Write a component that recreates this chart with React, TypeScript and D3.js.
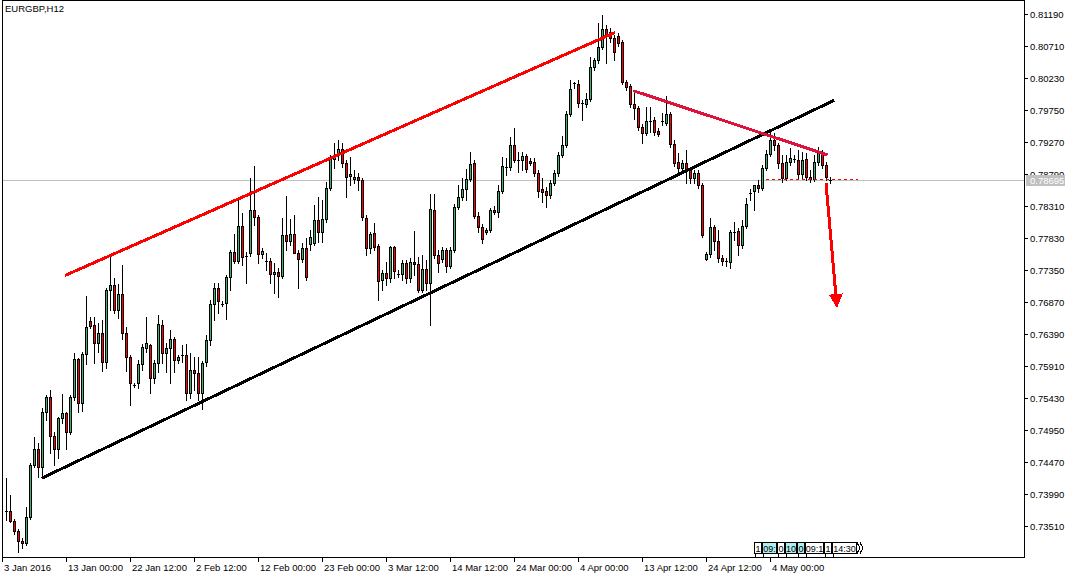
import React from 'react';
import * as d3 from 'd3';

const symbolTitle = 'EURGBP,H12';

const opens = [0.73735,0.73735,0.73585,0.73435,0.73285,0.73255,0.73645,0.74425,0.74665,0.74395,0.75220,0.75445,0.74860,0.74665,0.75130,0.75205,0.74920,0.75445,0.76015,0.75355,0.76090,0.76585,0.76525,0.76255,0.76405,0.75970,0.77050,0.77125,0.76750,0.76990,0.76405,0.76045,0.75625,0.75655,0.75940,0.76180,0.76225,0.75730,0.75955,0.76525,0.76105,0.76180,0.76315,0.76000,0.76075,0.76075,0.75505,0.75850,0.75805,0.75505,0.75970,0.76300,0.76840,0.77080,0.76840,0.76855,0.77245,0.77620,0.77485,0.78010,0.77560,0.77605,0.78250,0.78145,0.77590,0.77485,0.77485,0.77290,0.77320,0.77260,0.77875,0.77785,0.77890,0.77605,0.77515,0.77680,0.77740,0.77755,0.78100,0.77920,0.78115,0.78580,0.79015,0.79075,0.79165,0.78955,0.78760,0.78715,0.78745,0.78700,0.78130,0.77680,0.77905,0.77710,0.77200,0.77305,0.77230,0.77695,0.77290,0.77290,0.77455,0.77230,0.77470,0.77440,0.77050,0.77365,0.77155,0.78250,0.77575,0.77515,0.77650,0.77410,0.77650,0.78295,0.78445,0.78565,0.78715,0.78955,0.78160,0.77995,0.77920,0.77950,0.78250,0.78220,0.78535,0.78895,0.78895,0.79225,0.79000,0.79000,0.79060,0.78985,0.78970,0.78805,0.78565,0.78535,0.78475,0.78655,0.78805,0.79075,0.79225,0.79690,0.80155,0.80140,0.79855,0.79840,0.79915,0.80395,0.80500,0.80695,0.80965,0.80920,0.80830,0.80860,0.80770,0.80170,0.80110,0.79840,0.79780,0.79495,0.79405,0.79585,0.79600,0.79435,0.79585,0.79555,0.79690,0.79240,0.78970,0.78880,0.78955,0.78850,0.78730,0.78805,0.78625,0.77515,0.77590,0.77995,0.77785,0.77530,0.77485,0.77470,0.77920,0.77935,0.77725,0.78010,0.78505,0.78535,0.78625,0.78580,0.78880,0.79090,0.79300,0.79225,0.78955,0.78730,0.78970,0.79015,0.79000,0.78790,0.79015,0.78745,0.78715,0.78970,0.79105,0.78925,0.78700];

const highs = [0.74230,0.73975,0.73615,0.73465,0.73330,0.73795,0.74455,0.74845,0.74755,0.75280,0.75475,0.75550,0.74920,0.75145,0.75490,0.75220,0.75475,0.76105,0.76030,0.76120,0.76960,0.76645,0.76645,0.76555,0.76600,0.77080,0.77545,0.77230,0.77140,0.77425,0.76495,0.76075,0.75655,0.76000,0.76240,0.76645,0.76240,0.76000,0.76675,0.76600,0.76255,0.76450,0.76345,0.76075,0.76225,0.76240,0.76105,0.76045,0.76045,0.75985,0.76375,0.76900,0.77155,0.77155,0.76885,0.77275,0.77650,0.77890,0.78445,0.78205,0.77620,0.78730,0.78910,0.78175,0.77680,0.77605,0.77530,0.77455,0.77380,0.78130,0.78460,0.78115,0.78175,0.77650,0.77755,0.77830,0.77950,0.78325,0.78445,0.78400,0.78670,0.79075,0.79255,0.79300,0.79255,0.79000,0.79045,0.78850,0.78805,0.78730,0.78175,0.77920,0.78055,0.77740,0.77350,0.77470,0.77710,0.77710,0.77350,0.77500,0.77500,0.77530,0.77935,0.77545,0.77575,0.77500,0.78490,0.78490,0.77650,0.77695,0.77680,0.77695,0.78340,0.78625,0.78730,0.78865,0.79120,0.79000,0.78220,0.78040,0.77980,0.78280,0.78310,0.78625,0.79045,0.79030,0.79345,0.79480,0.79120,0.79120,0.79090,0.79030,0.79030,0.78850,0.78730,0.78595,0.78700,0.78850,0.79120,0.79360,0.79735,0.80200,0.80170,0.80200,0.79900,0.80005,0.80545,0.80530,0.81055,0.81175,0.81025,0.80980,0.80875,0.80905,0.80800,0.80200,0.80140,0.80035,0.79810,0.79540,0.79795,0.79795,0.79645,0.79480,0.79705,0.79960,0.79720,0.79300,0.79105,0.79000,0.79150,0.78895,0.78850,0.78850,0.78655,0.77620,0.78130,0.78025,0.77950,0.77575,0.77530,0.77950,0.78070,0.77980,0.78100,0.78430,0.78565,0.78625,0.78700,0.78925,0.79150,0.79450,0.79405,0.79255,0.79075,0.79075,0.79180,0.79075,0.79150,0.79120,0.79105,0.78850,0.79075,0.79195,0.79150,0.78970,0.78745];

const lows = [0.73600,0.73570,0.73390,0.73120,0.73180,0.73225,0.73615,0.74395,0.74245,0.74245,0.75100,0.74605,0.74425,0.74530,0.75055,0.74665,0.74890,0.75400,0.75220,0.75235,0.75940,0.76480,0.75955,0.76120,0.75835,0.75880,0.76750,0.76705,0.76630,0.76315,0.75835,0.75325,0.75595,0.75580,0.75850,0.76120,0.75505,0.75655,0.75820,0.75955,0.75820,0.75655,0.75820,0.75955,0.75970,0.75400,0.75430,0.75550,0.75400,0.75265,0.75910,0.76225,0.76600,0.76705,0.76810,0.76615,0.77050,0.77455,0.77455,0.77425,0.77155,0.77560,0.78025,0.77455,0.77530,0.77350,0.77155,0.77005,0.76945,0.77230,0.77650,0.77725,0.77605,0.77080,0.77470,0.77200,0.77650,0.77725,0.77770,0.77770,0.78070,0.78550,0.78880,0.79000,0.78895,0.78445,0.78625,0.78655,0.78550,0.78100,0.77575,0.77605,0.77650,0.76900,0.77050,0.77125,0.77170,0.77230,0.77245,0.77200,0.77155,0.77170,0.77275,0.77020,0.77020,0.77050,0.76525,0.77530,0.77320,0.77470,0.77320,0.77380,0.77620,0.78265,0.78400,0.78400,0.78685,0.78130,0.77920,0.77755,0.77890,0.77920,0.78190,0.78145,0.78505,0.78775,0.78850,0.78970,0.78820,0.78850,0.78820,0.78925,0.78760,0.78445,0.78370,0.78295,0.78430,0.78625,0.78760,0.79045,0.79195,0.79660,0.80080,0.79795,0.79600,0.79795,0.79885,0.80350,0.80455,0.80665,0.80455,0.80770,0.80500,0.80710,0.80140,0.80050,0.79795,0.79615,0.79450,0.79255,0.79375,0.79420,0.79375,0.79360,0.79525,0.79525,0.79195,0.78910,0.78820,0.78820,0.78655,0.78655,0.78655,0.78580,0.77845,0.77500,0.77545,0.77650,0.77470,0.77425,0.77410,0.77380,0.77800,0.77575,0.77680,0.77980,0.78400,0.78250,0.78520,0.78550,0.78850,0.79060,0.79150,0.78880,0.78670,0.78700,0.78925,0.78970,0.78730,0.78730,0.78700,0.78670,0.78685,0.78925,0.78880,0.78700,0.78655];

const closes = [0.73735,0.73585,0.73435,0.73285,0.73255,0.73645,0.74425,0.74665,0.74395,0.75220,0.75445,0.74860,0.74665,0.75130,0.75205,0.74920,0.75445,0.76015,0.75355,0.76090,0.76495,0.76510,0.76255,0.76405,0.75970,0.77050,0.77125,0.76750,0.76990,0.76405,0.76045,0.75655,0.75625,0.75940,0.76195,0.76255,0.75730,0.75955,0.76540,0.76105,0.76180,0.76315,0.76000,0.76045,0.76075,0.75505,0.75850,0.75805,0.75505,0.75955,0.76300,0.76840,0.77080,0.76885,0.76840,0.77245,0.77620,0.77485,0.78010,0.77545,0.77560,0.78250,0.78145,0.77590,0.77635,0.77485,0.77290,0.77320,0.77260,0.77875,0.77785,0.77890,0.77605,0.77515,0.77680,0.77245,0.77845,0.78100,0.77920,0.78115,0.78580,0.79015,0.79075,0.79165,0.78955,0.78745,0.78790,0.78745,0.78700,0.78145,0.77680,0.77890,0.77695,0.77185,0.77305,0.77230,0.77695,0.77335,0.77290,0.77455,0.77230,0.77470,0.77440,0.77050,0.77365,0.77155,0.78265,0.77575,0.77455,0.77650,0.77410,0.77650,0.78295,0.78445,0.78565,0.78715,0.78940,0.78160,0.77995,0.77815,0.77950,0.78250,0.78220,0.78535,0.78910,0.78895,0.79225,0.79000,0.79000,0.79060,0.78865,0.78955,0.78805,0.78535,0.78520,0.78475,0.78655,0.78805,0.79075,0.79225,0.79690,0.80065,0.80155,0.79855,0.79855,0.79915,0.80395,0.80500,0.80695,0.80965,0.80875,0.80830,0.80620,0.80755,0.80170,0.80095,0.79840,0.79780,0.79495,0.79405,0.79585,0.79585,0.79420,0.79390,0.79585,0.79690,0.79240,0.78955,0.78880,0.78955,0.78850,0.78730,0.78805,0.78625,0.77875,0.77590,0.77995,0.77785,0.77530,0.77485,0.77485,0.77920,0.77920,0.77725,0.78010,0.78340,0.78505,0.78625,0.78580,0.78880,0.79090,0.79300,0.79225,0.78955,0.78730,0.78970,0.79030,0.79015,0.78790,0.79000,0.78745,0.78715,0.78970,0.79105,0.78925,0.78745,0.78695];

const priceTicks = [0.81190,0.80710,0.80230,0.79750,0.79270,0.78790,0.78310,0.77830,0.77350,0.76870,0.76390,0.75910,0.75430,0.74950,0.74470,0.73990,0.73510];
const timeTickBars = [-1,15,31,47,63,79,95,111,127,143,159,175,191];
const timeTickLabels = ['3 Jan 2016','13 Jan 00:00','22 Jan 12:00','2 Feb 12:00','12 Feb 00:00','23 Feb 00:00','3 Mar 12:00','14 Mar 12:00','24 Mar 00:00','4 Apr 00:00','13 Apr 12:00','24 Apr 12:00','4 May 00:00'];
const currentPrice = 0.78695;

// trend objects: [bar index, price]
const resistanceLine = [[14.75, 0.772675],[152.25, 0.809125]];
const supportLine = [[8.9, 0.74226],[207, 0.79894]];
const neckLine = [[156.8, 0.80040],[205.4, 0.79075]];
const arrowLine = [[205, 0.78655],[207.75, 0.76780]];
const dashedLevel = [[190, 0.78710],[213, 0.78710]];

const timeBoxLabels = ['1','09:','0','10','0','09:1','1','14:30'];
const timeBoxHighlight = [false,true,false,true,true,false,false,false];
const timeBoxWidths = [8,15,8,12,8,19,8,25];

const W = 1077, H = 578;
const left = 2, right = 1024, top = 0, bottom = 557;
const FONT = "Tahoma, 'Liberation Sans', Arial, sans-serif";
const GREEN = '#3cb371';
const RED = '#ff0000';

export default function App() {
  const x = d3.scaleLinear().domain([0, 206]).range([6, 830]);
  const y = d3.scaleLinear().domain([0.73510, 0.81190]).range([526, 14]);

  const candles = opens.map((o, i) => {
    const c = closes[i];
    const cx = Math.round(x(i));
    const yO = Math.round(y(o)), yC = Math.round(y(c));
    const yH = Math.round(y(highs[i])), yL = Math.round(y(lows[i]));
    const t = Math.min(yO, yC), b = Math.max(yO, yC);
    const col = c > o ? GREEN : RED;
    return (
      <g key={i}>
        <rect x={cx} y={yH} width={1} height={yL - yH + 1} fill="#000" />
        <rect x={cx - 1} y={t} width={3} height={b - t + 1} fill="#000" />
        {b - t >= 2 && <rect x={cx} y={t + 1} width={1} height={b - t - 1} fill={col} />}
      </g>
    );
  });

  const seg = (pts: number[][]) => ({ x1: x(pts[0][0]), y1: y(pts[0][1]), x2: x(pts[1][0]), y2: y(pts[1][1]) });
  const r = seg(resistanceLine);
  const s = seg(supportLine);
  const n = seg(neckLine);
  const a = seg(arrowLine);
  const dl = seg(dashedLevel);

  // arrow head
  const dx = a.x2 - a.x1, dy = a.y2 - a.y1;
  const len = Math.hypot(dx, dy);
  const ux = dx / len, uy = dy / len;
  const headL = 14, headW = 7;
  const bx = a.x2 - ux * headL, by = a.y2 - uy * headL;
  const head = `${a.x2},${a.y2} ${bx - uy * headW},${by + ux * headW} ${bx + uy * headW},${by - ux * headW}`;

  const yCur = Math.round(y(currentPrice));

  let bxPos = 754;
  const boxes = timeBoxLabels.map((lab, i) => {
    const w = timeBoxWidths[i];
    const el = (
      <g key={i}>
        <rect x={bxPos + 0.5} y={542.5} width={w - 1} height={11} fill={timeBoxHighlight[i] ? '#aeeeee' : '#fff'} stroke="#000" />
        <text x={bxPos + w / 2} y={551.5} fontSize={9} textAnchor="middle" fontFamily={FONT} fill="#000">{lab}</text>
        <line x1={bxPos + 1.5} x2={bxPos + 1.5} y1={554} y2={557} stroke="#000" />
      </g>
    );
    bxPos += w;
    return el;
  });
  const chevX = bxPos;

  return (
    <svg width={W} height={H} style={{ position: 'absolute', left: 0, top: 0, background: '#fff' }}>
      <rect x={0} y={0} width={W} height={H} fill="#fff" />
      <line x1={left} x2={right} y1={yCur + 0.5} y2={yCur + 0.5} stroke="#c0c0c0" />
      <g shapeRendering="crispEdges">{candles}</g>
      <g shapeRendering="crispEdges">
        <line {...dl} stroke={RED} strokeWidth={1} strokeDasharray="3,3" />
        <line {...r} stroke="#ff0000" strokeWidth={3} />
        <line {...s} stroke="#000" strokeWidth={3} />
        <line {...n} stroke="#dc143c" strokeWidth={3} />
        <line x1={a.x1} y1={a.y1} x2={bx} y2={by} stroke="#ff0000" strokeWidth={3} />
        <polygon points={head} fill="#ff0000" />
      </g>
      <g shapeRendering="crispEdges">{boxes}
        <polyline points={`${chevX},542.5 ${chevX + 3},548 ${chevX},553.5`} fill="none" stroke="#000" />
        <polyline points={`${chevX + 3},542.5 ${chevX + 6},548 ${chevX + 3},553.5`} fill="none" stroke="#000" />
      </g>
      <rect x={left + 0.5} y={top + 0.5} width={right - left} height={bottom - top} fill="none" stroke="#000" shapeRendering="crispEdges" />
      {priceTicks.map((p, i) => {
        const ty = Math.round(y(p));
        return (
          <g key={i}>
            <line x1={right} x2={right + 4} y1={ty + 0.5} y2={ty + 0.5} stroke="#000" shapeRendering="crispEdges" />
            <text x={1030} y={ty + 3.5} fontSize={9.5} fontFamily={FONT} fill="#000">{p.toFixed(5)}</text>
          </g>
        );
      })}
      <rect x={1026} y={yCur - 5} width={39} height={11} fill="#c0c0c0" />
      <text x={1030} y={yCur + 3.5} fontSize={9.5} fontFamily={FONT} fill="#fff">{currentPrice.toFixed(5)}</text>
      {timeTickBars.map((b, i) => {
        const tx = Math.round(x(b));
        return (
          <g key={i}>
            <line x1={tx + 0.5} x2={tx + 0.5} y1={bottom} y2={bottom + 5} stroke="#000" shapeRendering="crispEdges" />
            <text x={tx + 2} y={571} fontSize={9.5} fontFamily={FONT} fill="#000">{timeTickLabels[i]}</text>
          </g>
        );
      })}
      <text x={5} y={12} fontSize={9.5} fontFamily={FONT} fill="#000">{symbolTitle}</text>
    </svg>
  );
}
